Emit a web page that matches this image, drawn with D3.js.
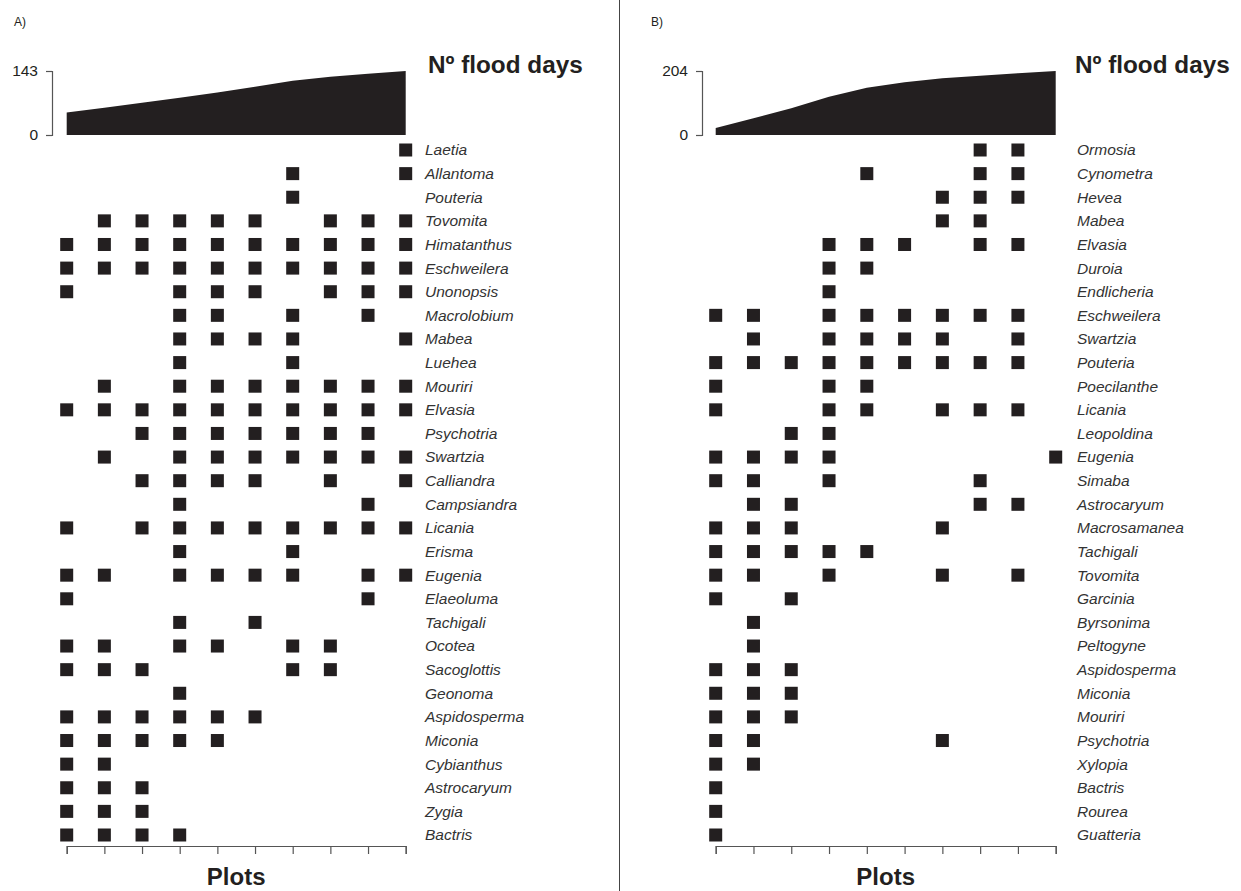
<!DOCTYPE html>
<html>
<head>
<meta charset="utf-8">
<script src="https://cdn.jsdelivr.net/npm/d3@7"></script>
<style>
  body { margin: 0; background: #fff; }
  svg { display: block; font-family: "Liberation Sans", Arial, sans-serif; }
</style>
</head>
<body>
<div id="chart"></div>
<script>
// plots along the flood gradient
const plots = [1, 2, 3, 4, 5, 6, 7, 8, 9, 10];

// number of flood days per plot
const floodA = [50, 61, 72, 83, 95, 108, 121, 130, 137, 143];
const floodB = [22, 53, 85, 122, 151, 168, 181, 189, 197, 204];

const speciesA = ["Laetia", "Allantoma", "Pouteria", "Tovomita", "Himatanthus", "Eschweilera",
  "Unonopsis", "Macrolobium", "Mabea", "Luehea", "Mouriri", "Elvasia", "Psychotria", "Swartzia",
  "Calliandra", "Campsiandra", "Licania", "Erisma", "Eugenia", "Elaeoluma", "Tachigali", "Ocotea",
  "Sacoglottis", "Geonoma", "Aspidosperma", "Miconia", "Cybianthus", "Astrocaryum", "Zygia", "Bactris"];

// plots where each genus occurs (same order as speciesA)
const presenceA = [
  [10], [7, 10], [7], [2, 3, 4, 5, 6, 8, 9, 10], [1, 2, 3, 4, 5, 6, 7, 8, 9, 10],
  [1, 2, 3, 4, 5, 6, 7, 8, 9, 10], [1, 4, 5, 6, 8, 9, 10], [4, 5, 7, 9], [4, 5, 6, 7, 10], [4, 7],
  [2, 4, 5, 6, 7, 8, 9, 10], [1, 2, 3, 4, 5, 6, 7, 8, 9, 10], [3, 4, 5, 6, 7, 8, 9],
  [2, 4, 5, 6, 7, 8, 9, 10], [3, 4, 5, 6, 8, 10], [4, 9], [1, 3, 4, 5, 6, 7, 8, 9, 10], [4, 7],
  [1, 2, 4, 5, 6, 7, 9, 10], [1, 9], [4, 6], [1, 2, 4, 5, 7, 8], [1, 2, 3, 7, 8], [4],
  [1, 2, 3, 4, 5, 6], [1, 2, 3, 4, 5], [1, 2], [1, 2, 3], [1, 2, 3], [1, 2, 3, 4]
];

const speciesB = ["Ormosia", "Cynometra", "Hevea", "Mabea", "Elvasia", "Duroia", "Endlicheria",
  "Eschweilera", "Swartzia", "Pouteria", "Poecilanthe", "Licania", "Leopoldina", "Eugenia", "Simaba",
  "Astrocaryum", "Macrosamanea", "Tachigali", "Tovomita", "Garcinia", "Byrsonima", "Peltogyne",
  "Aspidosperma", "Miconia", "Mouriri", "Psychotria", "Xylopia", "Bactris", "Rourea", "Guatteria"];

const presenceB = [
  [8, 9], [5, 8, 9], [7, 8, 9], [7, 8], [4, 5, 6, 8, 9], [4, 5], [4], [1, 2, 4, 5, 6, 7, 8, 9],
  [2, 4, 5, 6, 7, 9], [1, 2, 3, 4, 5, 6, 7, 8, 9], [1, 4, 5], [1, 4, 5, 7, 8, 9], [3, 4],
  [1, 2, 3, 4, 10], [1, 2, 4, 8], [2, 3, 8, 9], [1, 2, 3, 7], [1, 2, 3, 4, 5], [1, 2, 4, 7, 9],
  [1, 3], [2], [2], [1, 2, 3], [1, 2, 3], [1, 2, 3], [1, 2, 7], [1, 2], [1], [1], [1]
];

const width = 1241;
const height = 891;
const ink = "#231f20";

const svg = d3.select("#chart")
  .append("svg")
  .attr("width", width)
  .attr("height", height);

// divider between the two panels
svg.append("line")
  .attr("x1", 619.5).attr("x2", 619.5)
  .attr("y1", 0).attr("y2", height)
  .attr("stroke", "#444").attr("stroke-width", 1);

function drawPanel(opt) {
  const g = svg.append("g");

  const x = d3.scalePoint().domain(plots).range([opt.x0, opt.x1]);
  const yRow = d3.scalePoint().domain(opt.species).range([150, 835]);
  const yFlood = d3.scaleLinear().domain([0, opt.max]).range([135, 71]);

  // panel letter
  g.append("text")
    .attr("x", opt.letterX).attr("y", 26)
    .attr("font-size", 12)
    .attr("fill", ink)
    .text(opt.letter);

  // flood days profile
  const area = d3.area()
    .x((d, i) => x(plots[i]))
    .y0(yFlood(0))
    .y1((d) => yFlood(d));

  g.append("path")
    .datum(opt.flood)
    .attr("d", area)
    .attr("fill", ink);

  const yAxis = g.append("g")
    .attr("transform", "translate(" + opt.axisX + ",0)")
    .call(d3.axisLeft(yFlood).tickValues([0, opt.max]).tickSize(6).tickPadding(8));
  yAxis.selectAll("path, line").attr("stroke", "#555").attr("stroke-width", 1.2);
  yAxis.selectAll("text")
    .attr("font-size", 15.5)
    .attr("fill", ink)
    .style("font-family", "Liberation Sans, Arial, sans-serif");

  g.append("text")
    .attr("x", opt.titleX).attr("y", 73)
    .attr("font-size", 24.3)
    .attr("font-weight", "bold")
    .attr("fill", ink)
    .text("Nº flood days");

  // presence squares
  const cells = [];
  opt.species.forEach((s, i) => {
    opt.presence[i].forEach((p) => cells.push({ species: s, plot: p }));
  });
  const sq = 13;
  g.selectAll(".cell")
    .data(cells)
    .join("rect")
    .attr("class", "cell")
    .attr("x", (d) => x(d.plot) - sq / 2)
    .attr("y", (d) => yRow(d.species) - sq / 2)
    .attr("width", sq)
    .attr("height", sq)
    .attr("fill", ink);

  // genus names
  g.selectAll(".sp")
    .data(opt.species)
    .join("text")
    .attr("class", "sp")
    .attr("x", opt.labelX)
    .attr("y", (d) => yRow(d))
    .attr("dy", "0.35em")
    .attr("font-size", 15.5)
    .attr("font-style", "italic")
    .attr("fill", "#333")
    .text((d) => d);

  // plots axis
  const xAxis = g.append("g")
    .attr("transform", "translate(0,846)")
    .call(d3.axisBottom(x).tickSize(8).tickFormat(""));
  xAxis.selectAll("path, line").attr("stroke", "#555").attr("stroke-width", 1.2);

  g.append("text")
    .attr("x", (opt.x0 + opt.x1) / 2)
    .attr("y", 885)
    .attr("text-anchor", "middle")
    .attr("font-size", 24)
    .attr("font-weight", "bold")
    .attr("fill", ink)
    .text("Plots");
}

drawPanel({
  letter: "A)", letterX: 14,
  x0: 66.7, x1: 405.7, axisX: 52, labelX: 425, titleX: 428,
  max: 143, flood: floodA, species: speciesA, presence: presenceA
});

drawPanel({
  letter: "B)", letterX: 651,
  x0: 715.7, x1: 1055.7, axisX: 702, labelX: 1077, titleX: 1075,
  max: 204, flood: floodB, species: speciesB, presence: presenceB
});
</script>
</body>
</html>
